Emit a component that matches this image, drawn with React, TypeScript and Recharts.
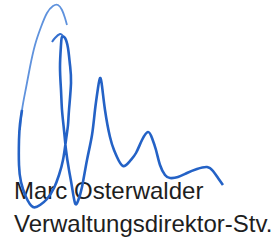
import React from 'react';
import { LineChart, Line, XAxis, YAxis } from 'recharts';

// Signature traced as pen strokes; x from left edge, y is height above bottom edge (0..244)
const arcX = [67, 65, 62, 58, 53, 47, 41, 35, 30, 26, 22, 20];
const arcY = [219, 226, 234, 239, 238, 231, 217, 199, 177, 156, 134, 114];

const mainX = [22, 20, 19, 19, 21, 26, 33, 40, 47, 54, 59, 63, 66, 68, 69, 71, 70, 68, 65, 62, 61, 60, 61, 62, 64, 66, 69, 72, 75, 78, 82, 87, 92, 95, 98, 100, 102, 105, 110, 114, 117, 123, 130, 136, 142, 148, 152, 156, 160, 165, 170, 178, 187, 197, 207, 213, 218, 223];
const mainY = [134, 120, 104, 79, 62, 47, 37, 39, 45, 56, 69, 84, 104, 119, 134, 161, 179, 196, 206, 207, 199, 177, 154, 134, 114, 94, 74, 57, 41, 43, 57, 84, 109, 134, 156, 166, 158, 134, 107, 94, 87, 78, 83, 91, 104, 112, 106, 94, 79, 69, 66, 67, 71, 75, 77, 73, 66, 59];

const tailX = [52, 55, 60, 63];
const tailY = [202, 206, 210, 208];

const nameLines = ['Marc Osterwalder', 'Verwaltungsdirektor-Stv.'];

const zip = (xs: number[], ys: number[]) => xs.map((x, i) => ({ x, y: ys[i] }));

const arcData = zip(arcX, arcY);
const mainData = zip(mainX, mainY);
const tailData = zip(tailX, tailY);

export default function App() {
  return (
    <div style={{ position: 'fixed', left: 0, top: 0, width: 280, height: 244, background: '#fff' }}>
      <svg width={280} height={244} style={{ position: 'absolute', left: 0, top: 0 }}>
        {nameLines.map((t, i) => (
          <text
            key={t}
            x={14}
            y={199 + i * 33}
            fontFamily="'Liberation Sans', Arial, sans-serif"
            fontSize={24}
            fill="#1e1e1e"
          >
            {t}
          </text>
        ))}
      </svg>
      <div style={{ position: 'absolute', left: 0, top: 0 }}>
        <LineChart width={280} height={244} margin={{ top: 0, right: 0, bottom: 0, left: 0 }}>
          <XAxis dataKey="x" type="number" domain={[0, 280]} hide />
          <YAxis type="number" domain={[0, 244]} hide />
          <Line data={arcData} dataKey="y" type="natural" stroke="#5f92dd" strokeWidth={1.8} dot={false} activeDot={false} isAnimationActive={false} />
          <Line data={mainData} dataKey="y" type="natural" stroke="#2462c6" strokeWidth={2.6} dot={false} activeDot={false} isAnimationActive={false} />
          <Line data={tailData} dataKey="y" type="natural" stroke="#3570cf" strokeWidth={2} dot={false} activeDot={false} isAnimationActive={false} />
        </LineChart>
      </div>
    </div>
  );
}
